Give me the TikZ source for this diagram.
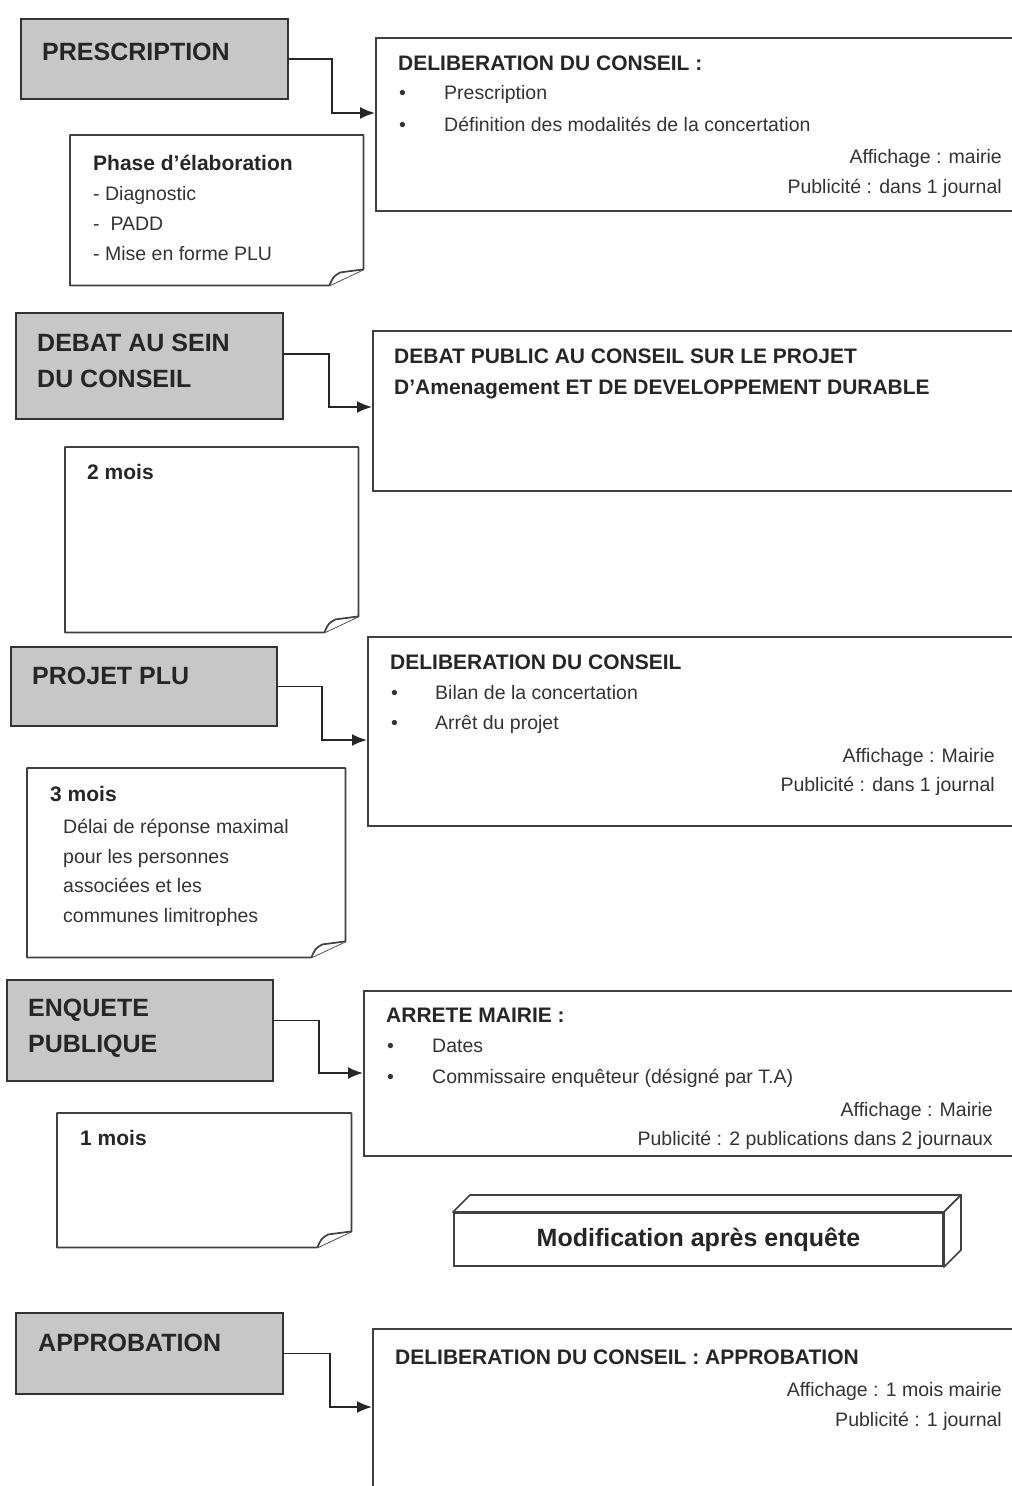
\documentclass[tikz,border=0pt]{standalone}
\usepackage{fontspec}
\setmainfont{Liberation Sans}
\usetikzlibrary{arrows.meta}
\usetikzlibrary{calc}

% folded corner note drawn round an empty node
\newcommand{\dogear}[1]{%
  \draw[noteline, fill=white] (#1.north west) -- (#1.north east) -- ([yshift=16pt]#1.south east)
    -- ([xshift=-34pt]#1.south east) -- (#1.south west) -- cycle;
  \draw[noteline, fill=white] ([xshift=-34pt]#1.south east)
    .. controls ([xshift=-30pt,yshift=9pt]#1.south east) .. ([xshift=-23pt,yshift=13pt]#1.south east)
    -- ([yshift=16pt]#1.south east);
}

\tikzset{
  phase/.style={draw=black!80, fill=black!22, line width=2pt, anchor=north west, inner sep=0pt},
  stage/.style={draw=black!75, line width=2pt, anchor=north west, inner sep=0pt},
  note/.style={anchor=north west, inner sep=0pt},
  noteline/.style={draw=black!75, line width=1.7pt, line join=round},
  phasetxt/.style={anchor=base west, inner sep=0pt, text=black!85, font=\fontsize{25}{30}\selectfont\bfseries},
  headtxt/.style={anchor=base west, inner sep=0pt, text=black!85, font=\fontsize{21}{25}\selectfont\bfseries},
  bodytxt/.style={anchor=base west, inner sep=0pt, text=black!80, font=\fontsize{19.5}{24}\selectfont},
  righttxt/.style={bodytxt, anchor=base east},
  link/.style={draw=black!85, line width=1.8pt, -{Latex[length=15pt,width=12pt]}},
}

\begin{document}
\begin{tikzpicture}[x=1pt, y=-1pt]

        \useasboundingbox (0,0) rectangle (1012,1486);

        % Prescription
        \node (pre) [phase, minimum width=267pt, minimum height=80pt] at (20,18) {};
        \node (preT) [phasetxt] at (42,60) {PRESCRIPTION};
        \node (del1) [stage, minimum width=660pt, minimum height=173pt] at (375,37) {};
        \node (del1T) [headtxt] at (398,70) {DELIBERATION DU CONSEIL :};
        \node (del1b1) [bodytxt] at (399,99) {\textbullet};
        \node (del1a) [bodytxt] at (444,99) {Prescription};
        \node (del1b2) [bodytxt] at (399,131) {\textbullet};
        \node (del1c) [bodytxt] at (444,131) {Définition des modalités de la concertation};
        \node (del1d) [righttxt] at (1002,163) {Affichage : mairie};
        \node (del1e) [righttxt] at (1002,193) {Publicité : dans 1 journal};
        \coordinate (in1) at (375,113);
        \draw[link] (pre.east) -- ++(43,0) |- (in1);

        \node (n1) [note, minimum width=293pt, minimum height=150pt] at (70,135) {};
        \dogear{n1}
        \node (n1T) [headtxt] at (93,170) {Phase d'élaboration};
        \node (n1a) [bodytxt] at (93,200) {- Diagnostic};
        \node (n1b) [bodytxt] at (93,230) {-\ \ PADD};
        \node (n1c) [bodytxt] at (93,260) {- Mise en forme PLU};

        % Debat
        \node (deb) [phase, minimum width=267pt, minimum height=106pt] at (15,312) {};
        \node (debT1) [phasetxt] at (37,351) {DEBAT AU SEIN};
        \node (debT2) [phasetxt] at (37,387) {DU CONSEIL};
        \node (del2) [stage, minimum width=660pt, minimum height=160pt] at (372,330) {};
        \node (del2T1) [headtxt] at (394,363) {DEBAT PUBLIC AU CONSEIL SUR LE PROJET};
        \node (del2T2) [headtxt] at (394,394) {D'Amenagement ET DE DEVELOPPEMENT DURABLE};
        \coordinate (in2) at (372,407);
        \draw[link] ([yshift=12pt]deb.east) -- ++(45,0) |- (in2);

        \node (n2) [note, minimum width=293pt, minimum height=185pt] at (65,447) {};
        \dogear{n2}
        \node (n2T) [headtxt] at (87,479) {2 mois};

        % Projet PLU
        \node (plu) [phase, minimum width=266pt, minimum height=79pt] at (10,646) {};
        \node (pluT) [phasetxt] at (32,684) {PROJET PLU};
        \node (del3) [stage, minimum width=670pt, minimum height=189pt] at (367,636) {};
        \node (del3T) [headtxt] at (390,669) {DELIBERATION DU CONSEIL};
        \node (del3b1) [bodytxt] at (391,699) {\textbullet};
        \node (del3a) [bodytxt] at (435,699) {Bilan de la concertation};
        \node (del3b2) [bodytxt] at (391,729) {\textbullet};
        \node (del3c) [bodytxt] at (435,729) {Arrêt du projet};
        \node (del3d) [righttxt] at (995,762) {Affichage : Mairie};
        \node (del3e) [righttxt] at (995,791) {Publicité : dans 1 journal};
        \coordinate (in3) at (367,740);
        \draw[link] (plu.east) -- ++(44,0) |- (in3);

        \node (n3) [note, minimum width=318pt, minimum height=189pt] at (27,768) {};
        \dogear{n3}
        \node (n3T) [headtxt] at (50,801) {3 mois};
        \node (n3a) [bodytxt] at (63,833) {Délai de réponse maximal};
        \node (n3b) [bodytxt] at (63,863) {pour les personnes};
        \node (n3c) [bodytxt] at (63,892) {associées et les};
        \node (n3d) [bodytxt] at (63,922) {communes limitrophes};

        % Enquete publique
        \node (enq) [phase, minimum width=266pt, minimum height=101pt] at (6,979) {};
        \node (enqT1) [phasetxt] at (28,1016) {ENQUETE};
        \node (enqT2) [phasetxt] at (28,1052) {PUBLIQUE};
        \node (arr) [stage, minimum width=670pt, minimum height=165pt] at (363,990) {};
        \node (arrT) [headtxt] at (386,1022) {ARRETE MAIRIE :};
        \node (arrb1) [bodytxt] at (387,1052) {\textbullet};
        \node (arra) [bodytxt] at (432,1052) {Dates};
        \node (arrb2) [bodytxt] at (387,1083) {\textbullet};
        \node (arrc) [bodytxt] at (432,1083) {Commissaire enquêteur (désigné par T.A)};
        \node (arrd) [righttxt] at (993,1116) {Affichage : Mairie};
        \node (arre) [righttxt] at (993,1145) {Publicité : 2 publications dans 2 journaux};
        \coordinate (in4) at (363,1073);
        \draw[link] ([yshift=10pt]enq.east) -- ++(45,0) |- (in4);

        \node (n4) [note, minimum width=294pt, minimum height=134pt] at (57,1113) {};
        \dogear{n4}
        \node (n4T) [headtxt] at (80,1145) {1 mois};

        % Modification
        \node (mod) [stage, anchor=north west, minimum width=489pt, minimum height=53pt, fill=white,
          font=\fontsize{25}{30}\selectfont\bfseries, text=black!85] at (453,1212) {Modification après enquête};
        \draw[noteline, fill=white] (mod.north west) -- ++(17,-17) -- ([shift={(17,-17)}]mod.north east)
          -- (mod.north east) -- cycle;
        \draw[noteline, fill=white] (mod.north east) -- ([shift={(17,-17)}]mod.north east)
          -- ([shift={(17,-17)}]mod.south east) -- (mod.south east) -- cycle;

        % Approbation
        \node (app) [phase, minimum width=267pt, minimum height=81pt] at (15,1312) {};
        \node (appT) [phasetxt] at (38,1351) {APPROBATION};
        \node (del5) [stage, minimum width=660pt, minimum height=200pt] at (372,1328) {};
        \node (del5T) [headtxt] at (395,1364) {DELIBERATION DU CONSEIL : APPROBATION};
        \node (del5a) [righttxt] at (1002,1396) {Affichage : 1 mois mairie};
        \node (del5b) [righttxt] at (1002,1426) {Publicité : 1 journal};
        \coordinate (in5) at (372,1407);
        \draw[link] (app.east) -- ++(46,0) |- (in5);

    \end{tikzpicture}
\end{document}
